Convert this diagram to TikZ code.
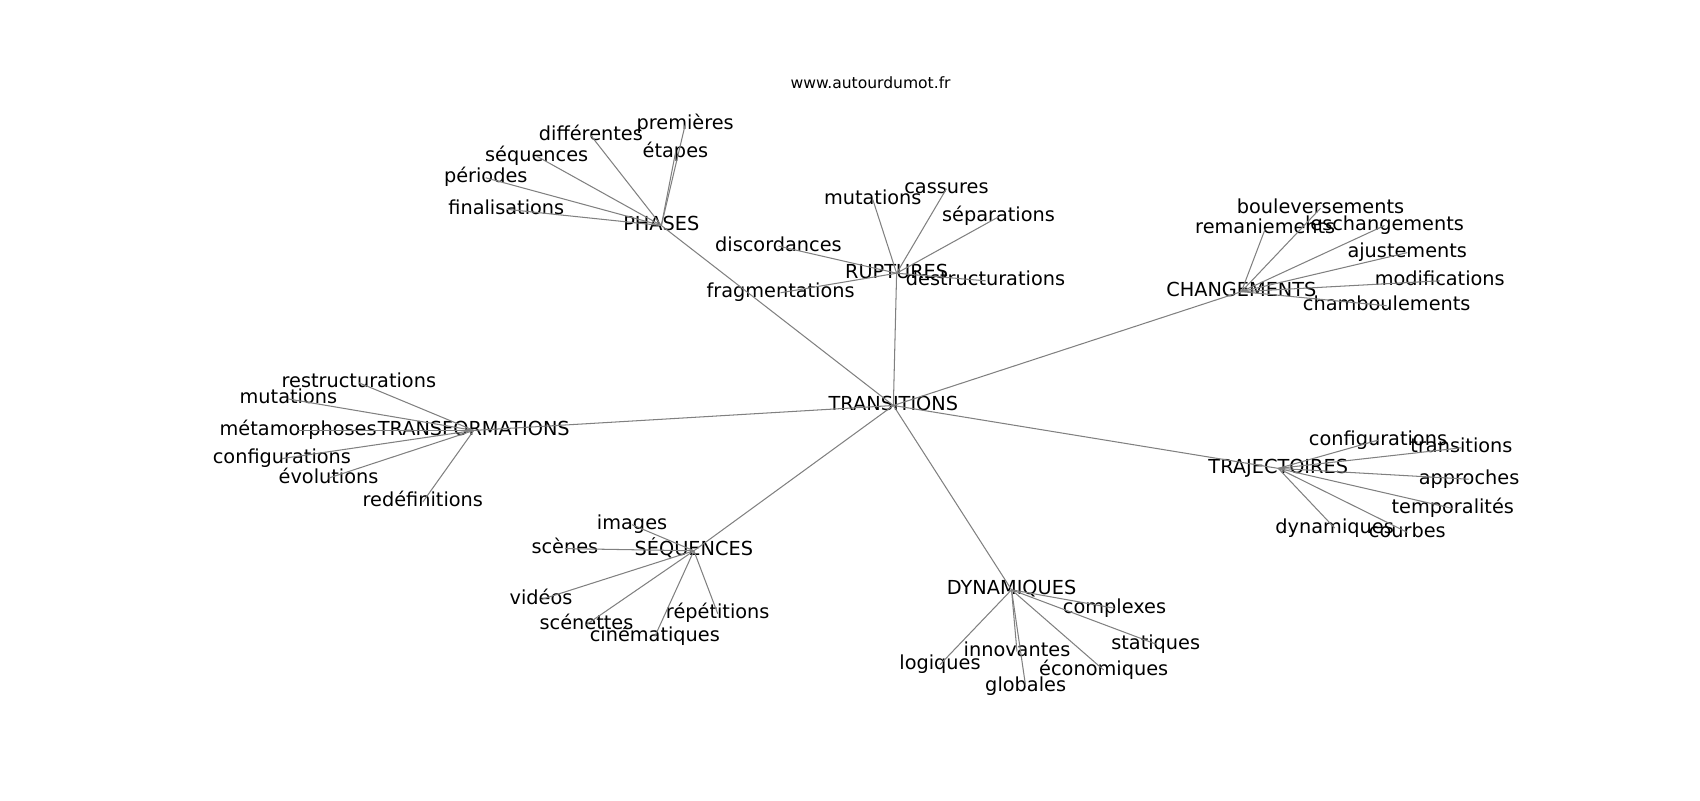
\documentclass[tikz,border=0pt]{standalone}
\usepackage{fontspec}
\setmainfont{DejaVu Sans}
\begin{document}
\begin{tikzpicture}[x=0.7806pt,y=-0.7806pt,
        every node/.style={inner sep=0pt,text height=10.5pt,text depth=3.3pt,
            font=\fontsize{13.9}{16}\selectfont},
        edge/.style={draw=gray,line width=0.75pt}]
    \useasboundingbox (0,-2) rectangle (1568,736);
    \node[font=\fontsize{11.2}{13}\selectfont,text height=8.5pt,text depth=2.6pt] (site) at (803,76) {www.autourdumot.fr};

    \node (trans) at (824,372) {TRANSITIONS};

    \node (phases) at (610,206) {PHASES};
    \node (rupt) at (827,250) {RUPTURES};
    \node (chang) at (1145,267) {CHANGEMENTS};
    \node (transf) at (437,395) {TRANSFORMATIONS};
    \node (traj) at (1179,430) {TRAJECTOIRES};
    \node (seq) at (640,506) {SÉQUENCES};
    \node (dyn) at (933,542) {DYNAMIQUES};

    % phases
    \node (p1) at (632,113) {premières};
    \node (p2) at (623,139) {étapes};
    \node (p3) at (545,123) {différentes};
    \node (p4) at (495,142) {séquences};
    \node (p5) at (448,162) {périodes};
    \node (p6) at (467,191) {finalisations};

    % ruptures
    \node (r1) at (805,182) {mutations};
    \node (r2) at (873,172) {cassures};
    \node (r3) at (921,198) {séparations};
    \node (r4) at (718,225) {discordances};
    \node (r5) at (720,268) {fragmentations};
    \node (r6) at (909,257) {destructurations};

    % changements
    \node (c1) at (1218,190) {bouleversements};
    \node (c2) at (1167,209) {remaniements};
    \node (c3) at (1277,206) {leschangements};
    \node (c4) at (1298,231) {ajustements};
    \node (c5) at (1328,257) {modifications};
    \node (c6) at (1279,280) {chamboulements};

    % transformations
    \node (f1) at (331,351) {restructurations};
    \node (f2) at (266,366) {mutations};
    \node (f3) at (275,395) {métamorphoses};
    \node (f4) at (260,421) {configurations};
    \node (f5) at (303,439) {évolutions};
    \node (f6) at (390,461) {redéfinitions};

    % trajectoires
    \node (t1) at (1271,404) {configurations};
    \node (t2) at (1348,411) {transitions};
    \node (t3) at (1355,440) {approches};
    \node (t4) at (1340,467) {temporalités};
    \node (t5) at (1231,485) {dynamiques};
    \node (t6) at (1298,489) {courbes};

    % sequences
    \node (s1) at (583,482) {images};
    \node (s2) at (521,504) {scènes};
    \node (s3) at (499,551) {vidéos};
    \node (s4) at (541,574) {scénettes};
    \node (s5) at (662,564) {répétitions};
    \node (s6) at (604,585) {cinématiques};

    % dynamiques
    \node (d1) at (1028,559) {complexes};
    \node (d2) at (1066,592) {statiques};
    \node (d3) at (938,599) {innovantes};
    \node (d4) at (1018,616) {économiques};
    \node (d5) at (867,611) {logiques};
    \node (d6) at (946,631) {globales};

    \foreach \h in {phases,rupt,chang,transf,traj,seq,dyn}
        \draw[edge] (trans.center) -- (\h.center);
    \foreach \l in {1,...,6} {
        \draw[edge] (phases.center) -- (p\l.center);
        \draw[edge] (rupt.center) -- (r\l.center);
        \draw[edge] (chang.center) -- (c\l.center);
        \draw[edge] (transf.center) -- (f\l.center);
        \draw[edge] (traj.center) -- (t\l.center);
        \draw[edge] (seq.center) -- (s\l.center);
        \draw[edge] (dyn.center) -- (d\l.center);
    }
\end{tikzpicture}
\end{document}
